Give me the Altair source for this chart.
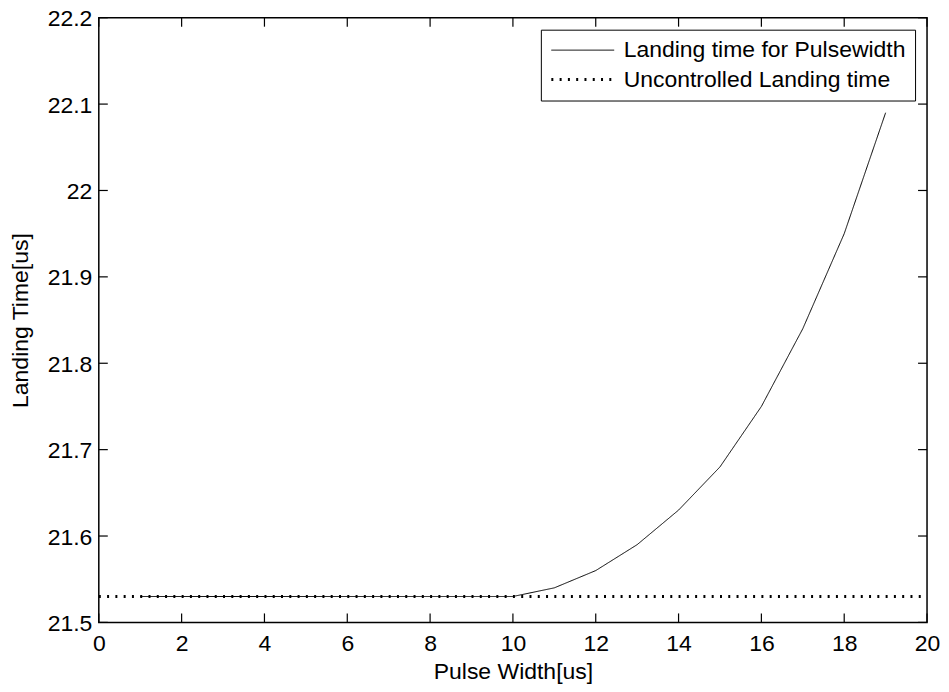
import altair as alt
import pandas as pd

# ---- data ----
pulse_width = [1, 2, 3, 4, 5, 6, 7, 8, 9, 10, 11, 12, 13, 14, 15, 16, 17, 18, 19]
landing_time = [21.53, 21.53, 21.53, 21.53, 21.53, 21.53, 21.53, 21.53, 21.53, 21.53,
                21.54, 21.56, 21.59, 21.63, 21.68, 21.75, 21.84, 21.95, 22.09]
uncontrolled_x = [0, 20]
uncontrolled_y = [21.53, 21.53]

series_names = ["Landing time for Pulsewidth", "Uncontrolled Landing time"]
x_ticks = [0, 2, 4, 6, 8, 10, 12, 14, 16, 18, 20]
y_ticks = [21.5, 21.6, 21.7, 21.8, 21.9, 22.0, 22.1, 22.2]

FONT = "Liberation Sans"
FS = 23
W, H = 830, 606
TICK = 9

df = pd.concat([
    pd.DataFrame({"x": pulse_width, "y": landing_time, "series": series_names[0]}),
    pd.DataFrame({"x": uncontrolled_x, "y": uncontrolled_y, "series": series_names[1]}),
])

xscale = alt.Scale(domain=[0, 20], nice=False, zero=False)
yscale = alt.Scale(domain=[21.5, 22.2], nice=False, zero=False)

xaxis = alt.Axis(values=x_ticks, title="Pulse Width[us]", domain=False, ticks=False, grid=False,
                 labelFont=FONT, labelFontSize=FS, labelColor="black", labelPadding=10,
                 labelFlush=False, labelOverlap=False,
                 titleFont=FONT, titleFontSize=FS, titleFontWeight="normal", titleColor="black",
                 titleY=56, titleBaseline="alphabetic")
yaxis = alt.Axis(values=y_ticks, format="~g", title="Landing Time[us]", domain=False, ticks=False,
                 grid=False, labelFont=FONT, labelFontSize=FS, labelColor="black", labelPadding=7,
                 labelFlush=False, labelOverlap=False, labelOffset=1,
                 titleFont=FONT, titleFontSize=FS, titleFontWeight="normal", titleColor="black",
                 titleX=-78, titleY=H / 2, titleBaseline="middle", titleAlign="center", titleAngle=270)

X = alt.X("x:Q", scale=xscale, axis=xaxis)
Y = alt.Y("y:Q", scale=yscale, axis=yaxis)

legend = alt.Legend(title=None, orient="top-right", offset=12, strokeColor="black",
                    fillColor="white", padding=9, labelFont=FONT, labelFontSize=FS,
                    labelColor="black", symbolType="M-1,0H5", symbolSize=441, labelOffset=50,
                    rowPadding=5, labelLimit=400)

lines = alt.Chart(df).mark_line(clip=True).encode(
    x=X, y=Y,
    color=alt.Color("series:N", scale=alt.Scale(domain=series_names, range=["black", "black"]),
                    legend=legend),
    strokeDash=alt.StrokeDash("series:N", scale=alt.Scale(domain=series_names, range=[[1, 0], [2, 6.3]]),
                              legend=legend),
    strokeWidth=alt.StrokeWidth("series:N", scale=alt.Scale(domain=series_names, range=[1, 3]),
                                legend=legend),
    order=alt.Order("x:Q"),
)

xt = pd.DataFrame({"x": x_ticks})
yt = pd.DataFrame({"y": y_ticks})
tick_style = dict(color="black", strokeWidth=1.2)
bottom = alt.Chart(xt).mark_rule(**tick_style).encode(x=X, y=alt.value(H), y2=alt.value(H - TICK))
top = alt.Chart(xt).mark_rule(**tick_style).encode(x=X, y=alt.value(0), y2=alt.value(TICK))
left = alt.Chart(yt).mark_rule(**tick_style).encode(y=Y, x=alt.value(0), x2=alt.value(TICK))
right = alt.Chart(yt).mark_rule(**tick_style).encode(y=Y, x=alt.value(W), x2=alt.value(W - TICK))

chart = alt.layer(bottom, top, left, right, lines).properties(
    width=W, height=H,
    autosize=alt.AutoSizeParams(type="none"),
    padding={"left": 91, "top": 9, "right": 14, "bottom": 61},
    background="white",
).configure_view(stroke="black", strokeWidth=1.5)

chart.save("out.html", embed_options={"renderer": "svg", "actions": False})
